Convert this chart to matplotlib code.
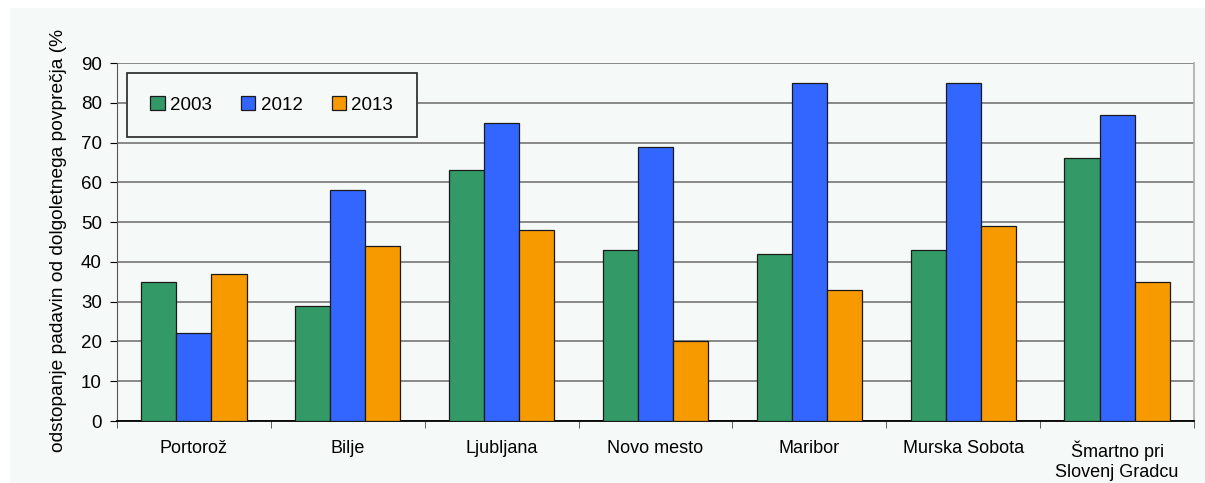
import numpy as np
import matplotlib.pyplot as plt
from matplotlib.patches import Rectangle

postaje = ['Portorož', 'Bilje', 'Ljubljana', 'Novo mesto', 'Maribor',
           'Murska Sobota', 'Šmartno pri\nSlovenj Gradcu']
leta = ['2003', '2012', '2013']
v2003 = [35, 29, 63, 43, 42, 43, 66]
v2012 = [22, 58, 75, 69, 85, 85, 77]
v2013 = [37, 44, 48, 20, 33, 49, 35]
barve = ['#339966', '#3366ff', '#f79a00']

ozadje = '#f5f9f7'
fig = plt.figure(figsize=(12.05, 4.83), dpi=100, facecolor='white')
fig.patches.append(Rectangle((10 / 1205, 0), 1, 1 - 8 / 483, transform=fig.transFigure,
                             facecolor=ozadje, edgecolor='none', zorder=-10))
ax = fig.add_axes([117 / 1205, 1 - 421 / 483, (1194 - 117) / 1205, (421 - 63) / 483])
ax.set_facecolor(ozadje)

x = np.arange(len(postaje))
w = 0.228
for i, (vals, leto) in enumerate(zip([v2003, v2012, v2013], leta)):
    ax.bar(x + (i - 1) * w, vals, width=w, color=barve[i], edgecolor='#1a1a1a',
           linewidth=0.9, label=leto, zorder=3)

ax.set_xlim(-0.5, len(postaje) - 0.5)
ax.set_ylim(0, 90)
ax.set_yticks(range(0, 91, 10))
ax.yaxis.grid(True, color='#808080', linewidth=1.3, zorder=0)
ax.set_xticks(x)
ax.set_xticklabels(postaje, fontsize=13, fontfamily='Liberation Sans', linespacing=1.25)
ax.set_xticks(np.arange(-0.5, len(postaje), 1), minor=True)
ax.tick_params(axis='x', which='major', length=0, pad=14)
ax.tick_params(axis='x', which='minor', length=5, color='#444444', direction='out')
ax.tick_params(axis='y', length=5, direction='out', labelsize=13.5, pad=6)
for lbl in ax.get_yticklabels():
    lbl.set_fontfamily('Liberation Sans')

ax.spines['top'].set_visible(False)
ax.spines['left'].set_color('#555555')
ax.spines['bottom'].set_color('black')
ax.spines['bottom'].set_linewidth(1.3)
ax.spines['right'].set_color('#b0b0b0')
ax.spines['right'].set_linewidth(1.3)

ax.set_ylabel('odstopanje padavin od dolgoletnega povprečja (%', fontsize=13.8,
              fontfamily='Liberation Sans')
ax.yaxis.set_label_coords(-0.046, 0.505)

leg = ax.legend(ncol=3, loc='upper left', bbox_to_anchor=(10 / 1077, 1 - 10 / 358),
                frameon=True, fancybox=False, edgecolor='#333333', facecolor=ozadje,
                framealpha=1, prop={'family': 'Liberation Sans', 'size': 13.5},
                handlelength=0.75, handleheight=0.75, handletextpad=0.3,
                columnspacing=1.55, borderpad=1.25, borderaxespad=0)
leg.get_frame().set_linewidth(1.3)

plt.savefig('out.png', dpi=100, facecolor='white')
